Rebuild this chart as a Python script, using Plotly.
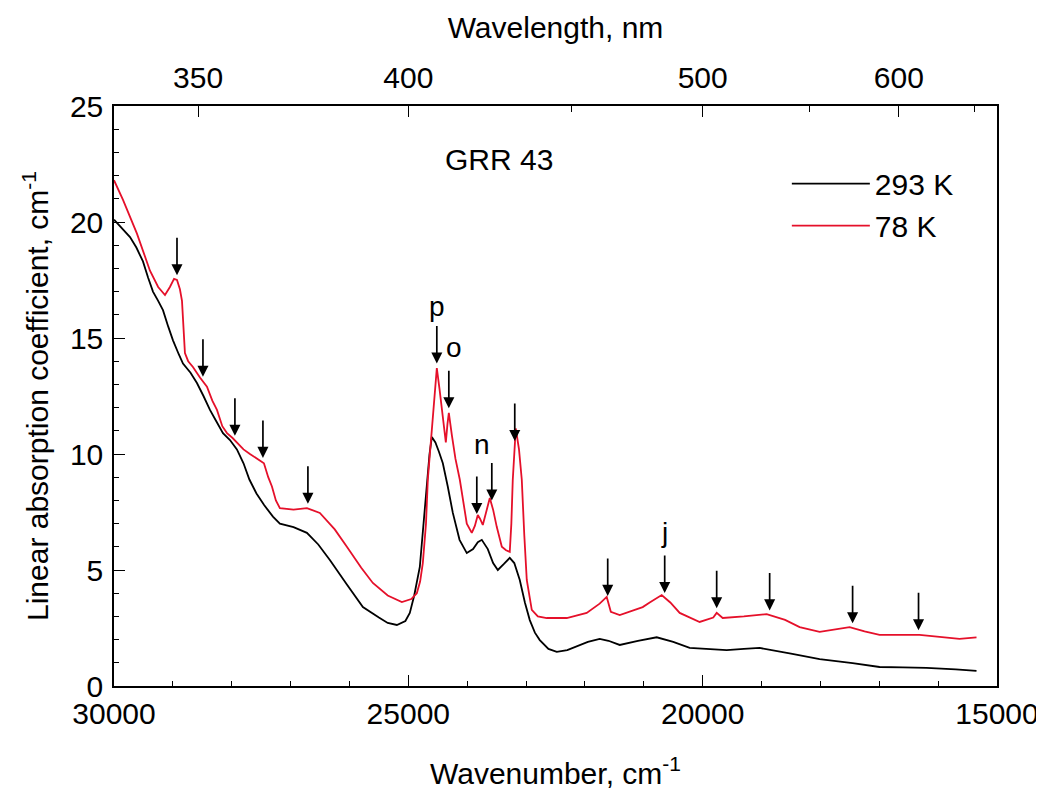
import numpy as np
import plotly.graph_objects as go

# 293 K (black) spectrum: wavenumber (cm-1) and absorption coefficient (cm-1)
wn_293 = [30000, 29860, 29728, 29620, 29508, 29420, 29338, 29250, 29168, 29080, 28998,
          28900, 28828, 28700, 28591, 28480, 28370, 28260, 28149, 28030, 27912, 27800,
          27700, 27580, 27450, 27300, 27182, 26950, 26723, 26530, 26333, 26050, 25772,
          25500, 25350, 25195, 25050, 24975, 24900, 24805, 24740, 24686, 24640, 24601,
          24540, 24480, 24414, 24330, 24244, 24130, 24007, 23900, 23820, 23752, 23650,
          23560, 23480, 23380, 23277, 23200, 23107, 23020, 22937, 22850, 22767, 22620,
          22479, 22300, 22150, 21950, 21749, 21600, 21409, 21100, 20781, 20500, 20221,
          19900, 19592, 19300, 19032, 18500, 18013, 17453, 16995, 16600, 16197, 15700,
          15348]
abs_293 = [20.1, 19.7, 19.35, 18.9, 18.3, 17.6, 17.0, 16.6, 16.2, 15.5, 14.9,
           14.3, 13.9, 13.5, 13.06, 12.5, 11.9, 11.4, 10.9, 10.6, 10.2, 9.6,
           8.9, 8.3, 7.8, 7.3, 7.0, 6.85, 6.6, 6.1, 5.43, 4.4, 3.4,
           2.95, 2.72, 2.63, 2.8, 3.15, 3.9, 5.13, 7.0, 8.88, 10.0, 10.73,
           10.5, 10.1, 9.6, 8.6, 7.46, 6.3, 5.73, 5.9, 6.2, 6.3, 5.9,
           5.3, 5.0, 5.25, 5.52, 5.3, 4.57, 3.6, 2.84, 2.3, 1.98, 1.6,
           1.47, 1.55, 1.7, 1.9, 2.03, 1.95, 1.77, 1.95, 2.1, 1.9, 1.64,
           1.58, 1.55, 1.6, 1.64, 1.4, 1.16, 0.99, 0.82, 0.8, 0.78, 0.72,
           0.65]

# 78 K (red) spectrum
wn_78 = [30000, 29847, 29610, 29389, 29250, 29134, 29050, 28980, 28930, 28880, 28845,
         28810, 28795, 28740, 28659, 28540, 28421, 28330, 28251, 28160, 28081, 27990,
         27912, 27800, 27691, 27560, 27453, 27380, 27317, 27250, 27182, 26950, 26723,
         26503, 26250, 26044, 25800, 25603, 25350, 25110, 24950, 24856, 24800, 24754,
         24700, 24669, 24620, 24584, 24540, 24516, 24470, 24410, 24363, 24335, 24312,
         24260, 24200, 24126, 24060, 24007, 23922, 23870, 23820, 23780, 23735, 23680,
         23616, 23560, 23497, 23412, 23340, 23277, 23250, 23226, 23175, 23120, 23073,
         23030, 22988, 22903, 22800, 22649, 22309, 21970, 21750, 21630, 21560, 21409,
         21019, 20900, 20696, 20550, 20390, 20051, 19820, 19762, 19660, 19300, 18913,
         18600, 18353, 18013, 17750, 17504, 17250, 16995, 16316, 15637, 15348]
abs_78 = [21.8, 20.95, 19.5, 17.9, 17.2, 16.85, 17.2, 17.55, 17.5, 17.1, 16.6,
          15.2, 14.35, 14.0, 13.75, 13.3, 12.9, 12.3, 11.9, 11.2, 10.9, 10.7,
          10.5, 10.2, 10.0, 9.8, 9.6, 9.0, 8.6, 8.0, 7.67, 7.6, 7.67,
          7.46, 6.75, 6.0, 5.1, 4.44, 3.9, 3.62, 3.75, 4.0, 4.5, 5.3,
          7.0, 8.9, 10.5, 11.8, 13.0, 13.7, 12.8, 11.5, 10.5, 11.3, 11.77,
          10.8, 9.8, 8.9, 7.8, 7.0, 6.6, 6.9, 7.37, 7.2, 6.94, 7.5,
          8.1, 7.6, 6.85, 6.0, 5.85, 5.78, 7.0, 8.88, 11.1, 10.2, 8.9,
          6.5, 4.57, 3.28, 3.0, 2.93, 2.93, 3.15, 3.55, 3.84, 3.2, 3.06,
          3.4, 3.6, 3.92, 3.6, 3.15, 2.76, 2.95, 3.15, 2.93, 3.0, 3.1,
          2.85, 2.54, 2.33, 2.45, 2.54, 2.35, 2.2, 2.2, 2.03, 2.1]

# Arrow positions (wavenumber, cm-1) marking features on the 78 K curve
arrow_wn = [28930, 28489, 27946, 27470, 26706, 24516, 24312, 23837, 23582, 23192,
            21613, 20645, 19762, 18862, 17453, 16333]

# Band labels
label_text = ["p", "o", "n", "j"]
label_wn = [24516, 24227, 23752, 20645]
label_y = [16.35, 14.6, 10.4, 6.6]

# Top axis wavelengths (nm)
wl_major = [350, 400, 500, 600]
wl_minor = [450, 550, 650]

FONT = "Liberation Sans, Arial, sans-serif"
FS = 30
RED = "#e5102a"

fig = go.Figure()
fig.add_trace(go.Scatter(x=wn_293, y=abs_293, mode="lines", name="293 K",
                         line=dict(color="black", width=1.8)))
fig.add_trace(go.Scatter(x=wn_78, y=abs_78, mode="lines", name="78 K",
                         line=dict(color=RED, width=1.8)))
# invisible trace to activate top axis
fig.add_trace(go.Scatter(x=wn_293, y=abs_293, mode="lines", xaxis="x2",
                         line=dict(color="rgba(0,0,0,0)"), showlegend=False,
                         hoverinfo="skip"))

# arrows
rx = np.array(wn_78[::-1], dtype=float)
ry = np.array(abs_78[::-1], dtype=float)
for w in arrow_wn:
    yt = float(np.interp(w, rx, ry)) + 0.2
    fig.add_annotation(x=w, y=yt, xref="x", yref="y", text="", showarrow=True,
                       ax=0, ay=-39, arrowhead=2, arrowsize=1.3, arrowwidth=1.7,
                       arrowcolor="black")

for t, w, yv in zip(label_text, label_wn, label_y):
    fig.add_annotation(x=w, y=yv, xref="x", yref="y", text=t, showarrow=False,
                       font=dict(family=FONT, size=28, color="black"))

fig.add_annotation(x=0.436, y=0.907, xref="paper", yref="paper", text="GRR 43",
                   xanchor="center", yanchor="middle",
                   showarrow=False, font=dict(family=FONT, size=FS, color="black"))

axis_common = dict(showgrid=False, zeroline=False, automargin=False,
                   ticks="inside", tickcolor="black", tickwidth=1.3, ticklen=11,
                   tickfont=dict(family=FONT, size=FS, color="black"))

# page body has an 8 px margin; compensate so the plot area sits at x 114-997, y 106-686
fig.update_layout(
    width=1036, height=784,
    margin=dict(l=106, r=47, t=98, b=106),
    paper_bgcolor="white", plot_bgcolor="white",
    font=dict(family=FONT, size=FS, color="black"),
    showlegend=True,
    legend=dict(x=0.762, y=0.911, xanchor="left", yanchor="top",
                bgcolor="rgba(0,0,0,0)", font=dict(family=FONT, size=FS),
                tracegroupgap=0, itemwidth=78),
    xaxis=dict(range=[30000, 15000], tickvals=[30000, 25000, 20000, 15000],
               ticktext=["30000", "25000", "20000", "15000"],
               linecolor="black", linewidth=1.5,
               minor=dict(dtick=1000, tick0=15000, ticklen=5, ticks="inside",
                          tickcolor="black", tickwidth=1.3),
               title=dict(text="Wavenumber, cm<sup>-1</sup>", standoff=34,
                          font=dict(family=FONT, size=FS)),
               **axis_common),
    xaxis2=dict(range=[30000, 15000], overlaying="x", side="top", anchor="y",
                tickvals=[1e7 / l for l in wl_major],
                ticktext=[str(l) for l in wl_major],
                minor=dict(tickvals=[1e7 / l for l in wl_minor], ticklen=6,
                           ticks="inside", tickcolor="black", tickwidth=1.3),
                ticklabelstandoff=4,
                title=dict(text="Wavelength, nm", standoff=14,
                           font=dict(family=FONT, size=FS)),
                showline=True, linecolor="black", linewidth=1.5,
                **axis_common),
    yaxis=dict(range=[0, 25], tickvals=[0, 5, 10, 15, 20, 25], mirror=True,
               linecolor="black", linewidth=1.5,
               minor=dict(dtick=1, ticklen=5, ticks="inside",
                          tickcolor="black", tickwidth=1.3),
               ticklabelstandoff=3,
               title=dict(text="Linear absorption coefficient, cm<sup>-1</sup>",
                          standoff=12, font=dict(family=FONT, size=FS)),
               **axis_common),
)

fig.write_html("out.html")
